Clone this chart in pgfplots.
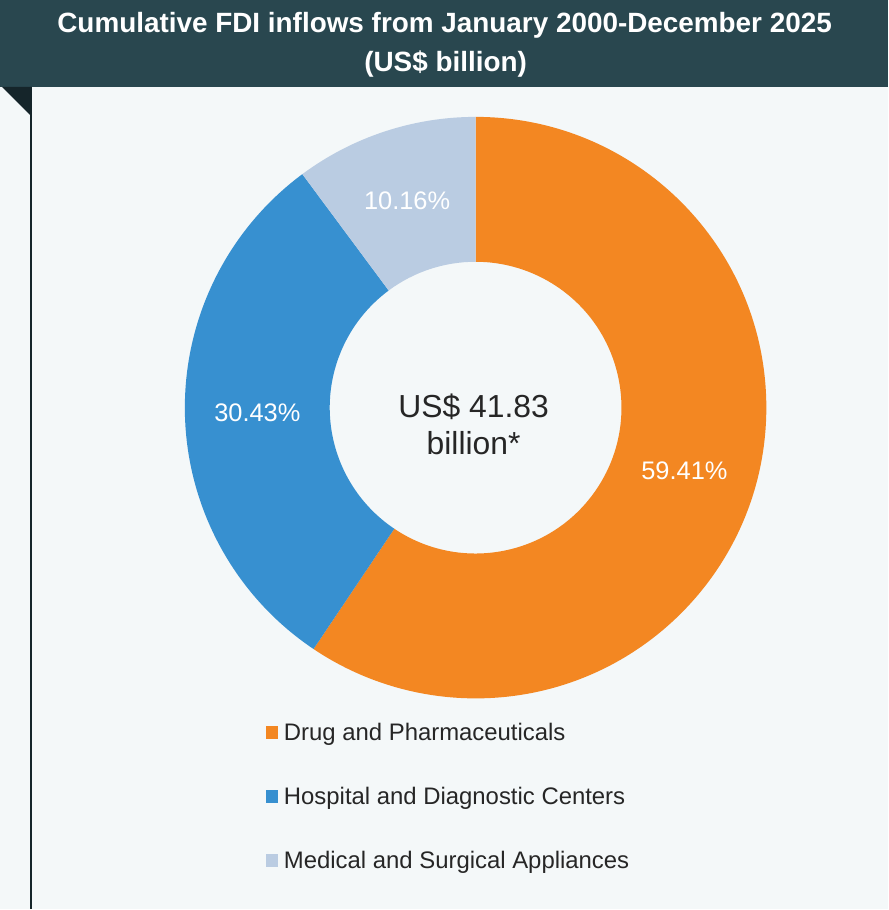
\documentclass[border=0pt]{standalone}
\usepackage{fontspec}
\setmainfont{Liberation Sans}
\usepackage{pgfplots}
\usepackage{pgfplotstable}
\pgfplotsset{compat=1.18}

\definecolor{banner}{HTML}{29474F}
\definecolor{fold}{HTML}{15252A}
\definecolor{bg}{HTML}{F4F8F9}
\definecolor{drug}{HTML}{F38722}
\definecolor{hosp}{HTML}{3790D0}
\definecolor{med}{HTML}{BACCE2}
\definecolor{txt}{HTML}{262626}

% share of cumulative FDI inflows, in per cent
\pgfplotstableread{
value
59.41
30.43
10.16
}\fdi

% donut geometry (axis units = bp)
\def\cx{476}\def\cy{502}
\def\rout{291}\def\rin{146}\def\rlab{218.5}

\newcommand\slice[3]{%
  \fill[#1] (axis cs:{\cx+\rout*cos(#2)},{\cy+\rout*sin(#2)})
    arc[start angle=#2, end angle=#3, radius=\rout]
    -- (axis cs:{\cx+\rin*cos(#3)},{\cy+\rin*sin(#3)})
    arc[start angle=#3, end angle=#2, radius=\rin] -- cycle;}
\newcommand\pctlabel[2]{%
  \node[text=white, font=\fontsize{25.5}{25.5}\selectfont, inner sep=0pt]
    at (axis cs:{\cx+\rlab*cos(#1)},{\cy+\rlab*sin(#1)}) {#2\%};}

\begin{document}
\begin{tikzpicture}
\pgfplotstablegetelem{0}{value}\of\fdi \let\vA\pgfplotsretval
\pgfplotstablegetelem{1}{value}\of\fdi \let\vB\pgfplotsretval
\pgfplotstablegetelem{2}{value}\of\fdi \let\vC\pgfplotsretval
\pgfmathsetmacro\aA{90-3.6*\vA}
\pgfmathsetmacro\aB{\aA-3.6*\vB}
\pgfmathsetmacro\aC{\aB-3.6*\vC}
\pgfmathsetmacro\mA{(90+\aA)/2}
\pgfmathsetmacro\mB{(\aA+\aB)/2}
\pgfmathsetmacro\mC{(\aB+\aC)/2}
\begin{axis}[
  x=1bp, y=1bp,
  xmin=0, xmax=889, ymin=0, ymax=910,
  hide axis, clip=false, disabledatascaling,
  legend cell align=left,
  legend image code/.code={\fill[#1] (0bp,-4bp) rectangle (12bp,9bp);},
  legend style={at={(axis cs:266,187)}, anchor=north west,
    draw=none, fill=none, inner sep=0pt,
    row sep=40.2bp, column sep=6bp,
    font=\fontsize{24}{24}\selectfont, text=txt,
    nodes={inner sep=0pt, text height=18bp, text depth=6bp}},
]
% background, banner and frame
\fill[bg] (axis cs:0,0) rectangle (axis cs:889,910);
\fill[banner] (axis cs:0,823) rectangle (axis cs:889,910);
\fill[fold] (axis cs:2,823) -- (axis cs:32,823) -- (axis cs:32,793) -- cycle;
\draw[fold, line width=1.6bp] (axis cs:31,823) -- (axis cs:31,0);
\node[anchor=base, text=white, font=\fontsize{28}{28}\selectfont\bfseries]
  at (axis cs:445,877) {Cumulative FDI inflows from January 2000-December 2025};
\node[anchor=base, text=white, font=\fontsize{28}{28}\selectfont\bfseries]
  at (axis cs:446,838) {(US\$ billion)};

% donut
\slice{drug}{90}{\aA}
\slice{hosp}{\aA}{\aB}
\slice{med}{\aB}{\aC}
\pctlabel{\mA}{\vA}
\pctlabel{\mB}{\vB}
\pctlabel{\mC}{\vC}
\node[anchor=base, text=txt, font=\fontsize{32}{32}\selectfont]
  at (axis cs:474,492) {US\$ 41.83};
\node[anchor=base, text=txt, font=\fontsize{32}{32}\selectfont]
  at (axis cs:474,455) {billion*};

\addlegendimage{fill=drug, draw=none}
\addlegendentry{Drug and Pharmaceuticals}
\addlegendimage{fill=hosp, draw=none}
\addlegendentry{Hospital and Diagnostic Centers}
\addlegendimage{fill=med, draw=none}
\addlegendentry{Medical and Surgical Appliances}
\end{axis}
\end{tikzpicture}
\end{document}
